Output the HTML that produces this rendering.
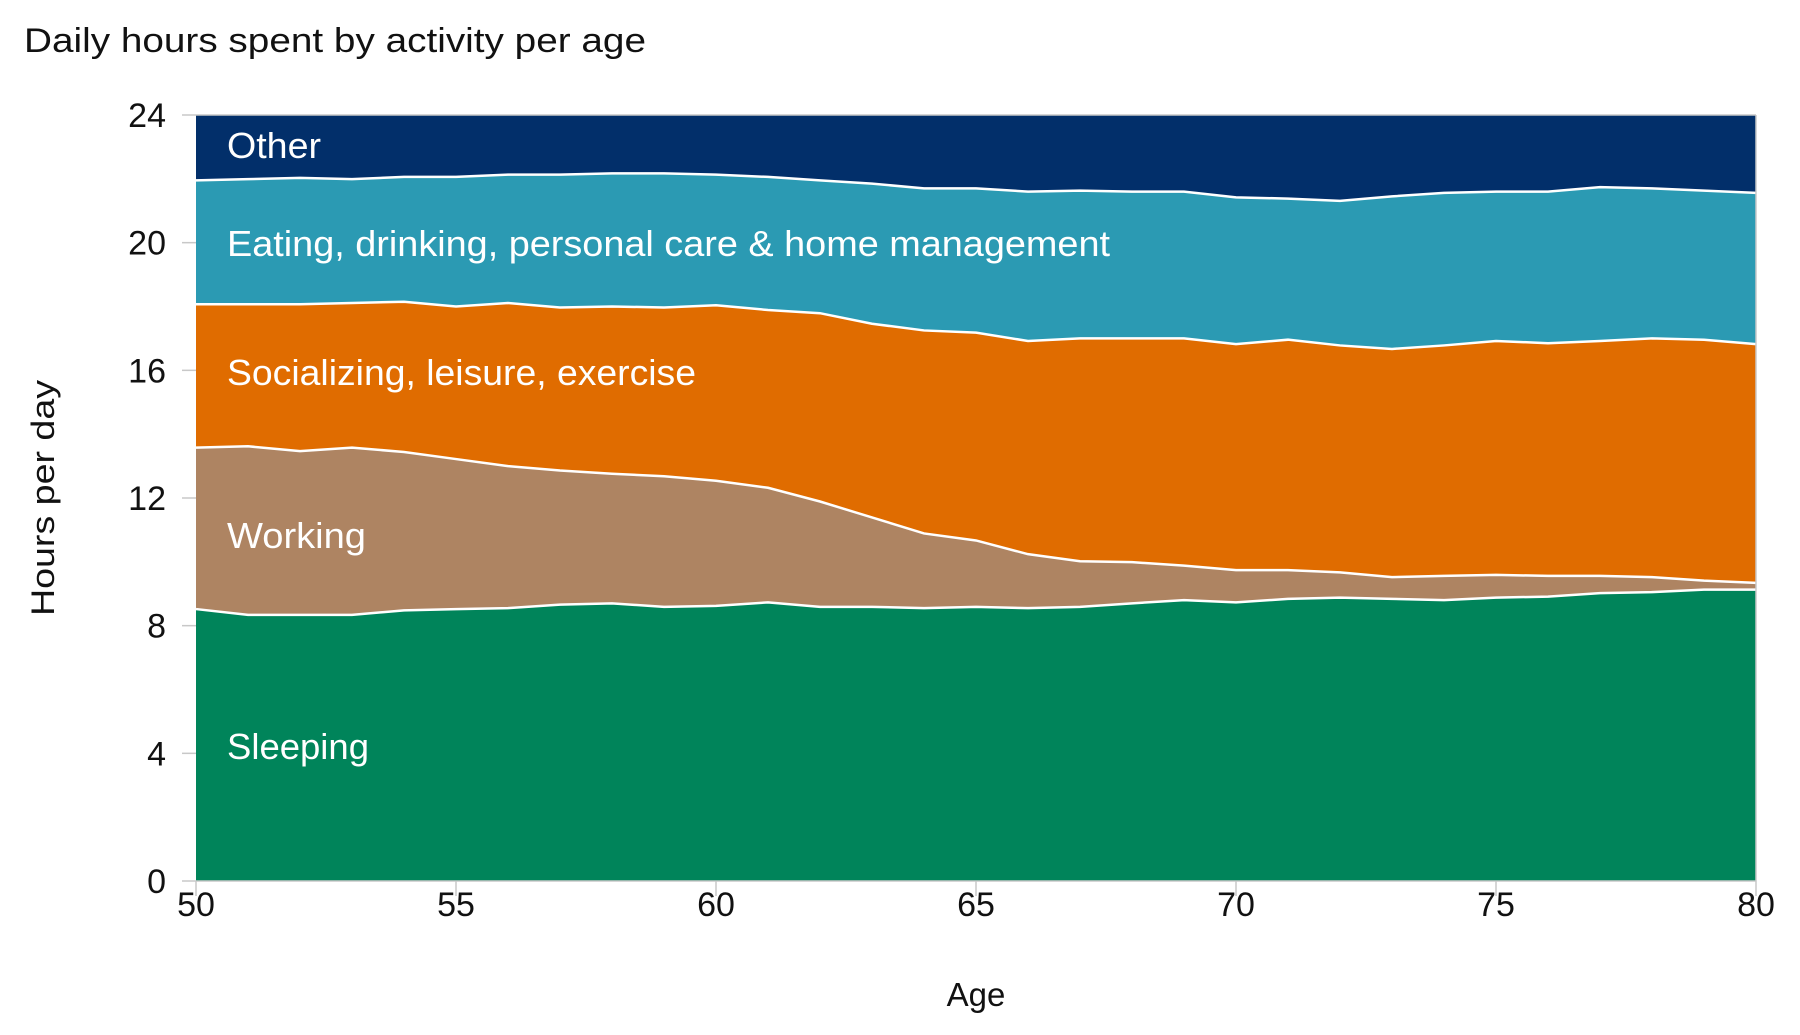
<!DOCTYPE html>
<html><head><meta charset="utf-8"><style>
html,body{margin:0;padding:0;background:#fff;}
svg{display:block;font-family:"Liberation Sans",sans-serif;}
</style></head><body>
<svg id="chart" width="1800" height="1035" viewBox="0 0 1800 1035">
<text x="24" y="52" font-size="34" fill="#111" textLength="622" lengthAdjust="spacingAndGlyphs">Daily hours spent by activity per age</text>
<g id="areas"></g>
<g id="axes"></g>
<g id="labels"></g>
<text x="0" y="0" font-size="32" fill="#111" text-anchor="middle" transform="translate(54,498) rotate(-90)" textLength="236" lengthAdjust="spacingAndGlyphs">Hours per day</text>
<text x="976" y="1006" font-size="33" fill="#111" text-anchor="middle">Age</text>
</svg>
<script>
const ages = [50,51,52,53,54,55,56,57,58,59,60,61,62,63,64,65,66,67,68,69,70,71,72,73,74,75,76,77,78,79,80];
const sleeping = [8.52,8.34,8.34,8.34,8.48,8.52,8.55,8.66,8.70,8.59,8.62,8.73,8.59,8.59,8.55,8.59,8.55,8.59,8.70,8.80,8.73,8.84,8.88,8.84,8.80,8.88,8.91,9.02,9.05,9.13,9.13];
const working = [5.06,5.28,5.13,5.24,4.96,4.70,4.45,4.20,4.06,4.09,3.92,3.59,3.30,2.80,2.34,2.08,1.69,1.43,1.29,1.08,1.01,0.90,0.79,0.68,0.76,0.71,0.65,0.54,0.47,0.28,0.21];
const socializing = [4.49,4.45,4.60,4.53,4.71,4.78,5.11,5.11,5.24,5.29,5.50,5.57,5.90,6.07,6.36,6.51,6.68,6.98,7.01,7.12,7.08,7.22,7.11,7.15,7.22,7.33,7.29,7.36,7.48,7.55,7.48];
const eating = [3.88,3.92,3.96,3.88,3.91,4.06,4.02,4.16,4.17,4.20,4.09,4.17,4.16,4.39,4.45,4.52,4.68,4.63,4.60,4.60,4.60,4.42,4.53,4.78,4.78,4.68,4.75,4.82,4.70,4.67,4.74];
const other = [2.05,2.01,1.97,2.01,1.94,1.94,1.87,1.87,1.83,1.83,1.87,1.94,2.05,2.15,2.30,2.30,2.40,2.37,2.40,2.40,2.58,2.62,2.69,2.55,2.44,2.40,2.40,2.26,2.30,2.37,2.44];
const seriesNames = ["Sleeping","Working","Socializing, leisure, exercise","Eating, drinking, personal care & home management","Other"];
const yTicks = [0,4,8,12,16,20,24];
const xTicks = [50,55,60,65,70,75,80];

const NS="http://www.w3.org/2000/svg";
const L=196,R=1756,T=115,B=881;
const xs=a=>L+(a-50)/30*(R-L);
const ys=v=>B-v/24*(B-T);
const colors=["#00845a","#ae8462","#e06c00","#2b9ab3","#022f6a"];
const slugs=["sleeping","working","socializing","eating","other"];
const data=[sleeping,working,socializing,eating,other];
const areas=document.getElementById('areas');
const base=ages.map(()=>0);
const tops=[];
data.forEach((s,k)=>{
  const top=base.map((b,i)=>b+s[i]);
  tops.push(top.slice());
  let d="M"+ages.map((a,i)=>xs(a)+","+ys(Math.min(top[i],24))).join("L");
  for(let i=ages.length-1;i>=0;i--) d+="L"+xs(ages[i])+","+ys(base[i]);
  const p=document.createElementNS(NS,'path');
  p.setAttribute('d',d+"Z");
  p.setAttribute('fill',colors[k]);
  
  
  areas.appendChild(p);
  for(let i=0;i<base.length;i++) base[i]=top[i];
});
tops.slice(0,4).forEach((top,k)=>{
  const l=document.createElementNS(NS,'polyline');
  l.setAttribute('points',ages.map((a,i)=>xs(a)+","+ys(top[i])).join(" "));
  l.setAttribute('fill','none');l.setAttribute('stroke','#fff');l.setAttribute('stroke-width','2.5');
  
  
  areas.appendChild(l);
});
const axes=document.getElementById('axes');
function line(x1,y1,x2,y2,name){const l=document.createElementNS(NS,'line');
  l.setAttribute('x1',x1);l.setAttribute('y1',y1);l.setAttribute('x2',x2);l.setAttribute('y2',y2);
  l.setAttribute('stroke','#c8c8c8');l.setAttribute('stroke-width','1.5');
  
  
  axes.appendChild(l);}
line(L,T,R,T,'top-border');line(L,B,R,B,'x-axis-line');line(R,T,R,B,'right-border');
yTicks.forEach(v=>{
  line(182,ys(v),L,ys(v),'y-tick');
  const t=document.createElementNS(NS,'text');
  t.setAttribute('x',166);t.setAttribute('y',ys(v)+12);t.setAttribute('text-anchor','end');
  t.setAttribute('font-size','34');t.setAttribute('fill','#111');t.textContent=v;
  
  
  axes.appendChild(t);
});
xTicks.forEach(v=>{
  line(xs(v),B,xs(v),B+15,'x-tick');
  const t=document.createElementNS(NS,'text');
  t.setAttribute('x',xs(v));t.setAttribute('y',916);t.setAttribute('text-anchor','middle');
  t.setAttribute('font-size','34');t.setAttribute('fill','#111');t.textContent=v;
  
  
  axes.appendChild(t);
});
const labels=document.getElementById('labels');
const labY=[759,548,385,256,158];
const labW=[142,139,469,883,94];
seriesNames.forEach((n,k)=>{
  const t=document.createElementNS(NS,'text');
  t.setAttribute('x',227);t.setAttribute('y',labY[k]);t.setAttribute('font-size','36');
  t.setAttribute('fill','#fff');t.setAttribute('textLength',labW[k]);t.setAttribute('lengthAdjust','spacingAndGlyphs');
  t.textContent=n;
  
  
  labels.appendChild(t);
});
</script>
</body></html>
